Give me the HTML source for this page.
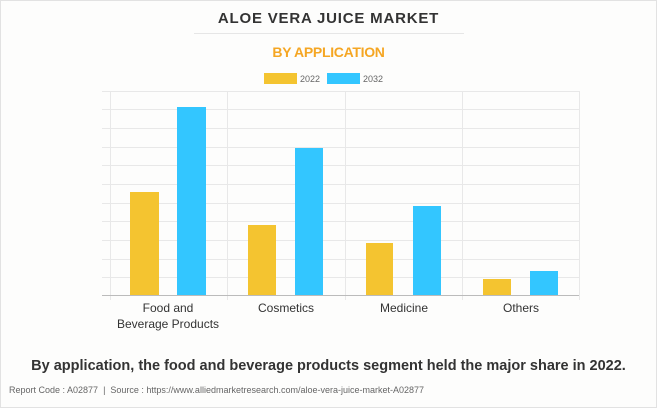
<!DOCTYPE html>
<html><head><style>
body{margin:0;width:657px;height:408px;background:#fdfdfc;font-family:"Liberation Sans",sans-serif;overflow:hidden;position:relative}
.frame{position:absolute;left:0;top:0;width:655px;height:406px;border:1px solid #e2e2e2}
.t{position:absolute;white-space:nowrap}
</style></head><body>
<div class="frame"></div>
<div class="t" style="left:0;width:657px;text-align:center;top:10px;font-size:15px;font-weight:bold;letter-spacing:0.8px;color:#333">ALOE VERA JUICE MARKET</div>
<div style="position:absolute;left:194px;top:33px;width:270px;height:1px;background:#e6e6e6"></div>
<div class="t" style="left:0;width:657px;text-align:center;top:44px;font-size:14px;font-weight:bold;color:#f5a623;letter-spacing:-0.3px">BY APPLICATION</div>
<svg width="657" height="408" style="position:absolute;left:0;top:0" font-family="Liberation Sans, sans-serif">
<rect x="264" y="73" width="33" height="11" fill="#f4c430"/>
<text x="300" y="82" font-size="9" fill="#666">2022</text>
<rect x="327" y="73" width="33" height="11" fill="#33c6ff"/>
<text x="363" y="82" font-size="9" fill="#666">2032</text>
<g stroke="#e8e8e8" stroke-width="1">
<line x1="102" x2="579" y1="91.5" y2="91.5"/><line x1="102" x2="579" y1="109.5" y2="109.5"/>
<line x1="102" x2="579" y1="128.5" y2="128.5"/><line x1="102" x2="579" y1="147.5" y2="147.5"/>
<line x1="102" x2="579" y1="165.5" y2="165.5"/><line x1="102" x2="579" y1="184.5" y2="184.5"/>
<line x1="102" x2="579" y1="203.5" y2="203.5"/><line x1="102" x2="579" y1="221.5" y2="221.5"/>
<line x1="102" x2="579" y1="240.5" y2="240.5"/><line x1="102" x2="579" y1="259.5" y2="259.5"/>
<line x1="102" x2="579" y1="277.5" y2="277.5"/>
<line x1="110.5" x2="110.5" y1="91" y2="300"/><line x1="227.5" x2="227.5" y1="91" y2="300"/>
<line x1="345.5" x2="345.5" y1="91" y2="300"/><line x1="462.5" x2="462.5" y1="91" y2="300"/>
<line x1="579.5" x2="579.5" y1="91" y2="300"/>
</g>
<line x1="102" x2="579" y1="295.5" y2="295.5" stroke="#bbb"/>
<g fill="#f4c430">
<rect x="130" y="192" width="29" height="103"/><rect x="248" y="225" width="28" height="70"/>
<rect x="366" y="243" width="27" height="52"/><rect x="483" y="279" width="28" height="16"/>
</g>
<g fill="#33c6ff">
<rect x="177" y="107" width="29" height="188"/><rect x="295" y="148" width="28" height="147"/>
<rect x="413" y="206" width="28" height="89"/><rect x="530" y="271" width="28" height="24"/>
</g>
<g font-size="12" fill="#333" text-anchor="middle">
<text x="168" y="312">Food and</text><text x="168" y="328">Beverage Products</text>
<text x="286" y="312">Cosmetics</text><text x="404" y="312">Medicine</text><text x="521" y="312">Others</text>
</g>
</svg>
<div class="t" style="left:0;width:657px;text-align:center;top:358px;font-size:14.5px;font-weight:bold;color:#333">By application, the food and beverage products segment held the major share in 2022.</div>
<div class="t" style="left:9px;top:385px;font-size:9px;color:#666">Report Code : A02877 &nbsp;|&nbsp; Source : https://www.alliedmarketresearch.com/aloe-vera-juice-market-A02877</div>
</body></html>
